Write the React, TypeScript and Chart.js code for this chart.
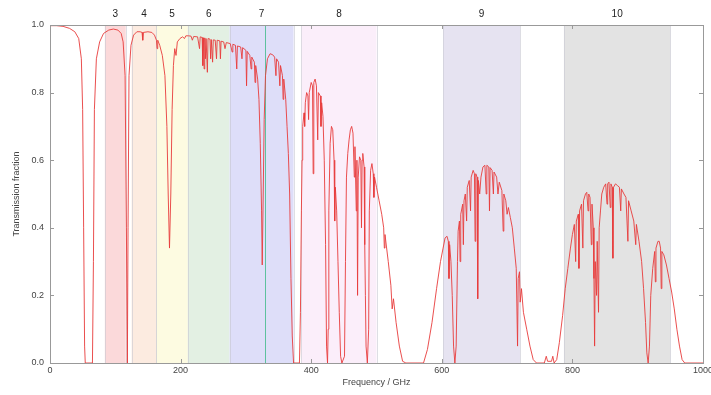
import React, { useEffect, useRef } from "react";
import { Chart, registerables } from "chart.js";

Chart.register(...registerables);

// Atmospheric transmission (frequency in GHz, transmission fraction)
const frequencyGHz = [
  0, 10, 20, 30, 38, 44, 48, 50, 51.5, 53, 54, 65, 66.5, 68, 71, 76, 82, 90, 97, 104, 109, 112, 115, 117, 118.5, 119.5, 121, 124, 128, 133, 138, 141, 142, 143, 150, 156, 160, 163, 164, 165, 168, 172, 176, 179, 181, 183, 185, 187, 189, 191, 193, 195, 199, 203, 206, 208, 212, 216, 218, 220, 226, 229, 230, 233, 234, 235, 236, 237, 238, 239, 241, 242, 245, 246, 247, 249, 250, 253, 255, 256, 260, 261, 262, 266, 268, 270, 276, 279, 280, 284, 286, 287, 292, 294, 295, 300, 301, 302, 306, 308, 309, 313, 314, 315, 318, 320, 322, 324, 325, 326.5, 328, 330, 333, 337, 341, 344, 346, 347, 350, 352, 353, 356, 357, 358, 361, 363, 365, 367, 369, 371, 373, 382, 383.5, 385, 386, 387, 389, 390, 391, 393, 395, 396, 397, 400, 402, 403, 404, 406, 408, 410, 411, 414, 415, 416, 418, 420, 422, 423.5, 425, 426, 427, 429, 431, 433, 435, 436, 437, 439, 441, 443, 445, 447, 451, 452.5, 454, 456, 458, 460, 462, 464, 466, 467, 469, 470, 471, 472, 474, 476, 477, 478, 479, 481, 482, 483, 484, 486, 488, 489, 491, 493, 495, 496, 497, 500, 504, 508, 511, 512, 513, 518, 522, 524, 526, 530, 535, 540, 545, 572, 578, 585, 592, 598, 602, 605, 608, 610, 611, 612, 614, 616, 618, 620, 622, 624, 625, 627, 628, 629, 632, 633, 634, 636, 638, 639, 642, 644, 645, 648, 650, 651, 652, 654, 655, 656, 658, 660, 663, 666, 668, 669, 672, 673, 674, 677, 679, 680, 684, 686, 688, 692, 694, 695, 698, 700, 702, 705, 708, 711, 714, 716, 717, 719, 720, 722, 725, 730, 735, 740, 745, 757, 760, 762, 768, 770, 772, 776, 780, 785, 789, 793, 797, 800, 803, 805, 806, 809, 810, 811, 814, 816, 817, 820, 822, 824, 825, 827, 829, 830, 832, 833, 834, 835, 837, 838, 840, 841, 843, 845, 848, 851, 853, 854, 856, 858, 859, 861, 862, 863, 866, 869, 872, 874, 875, 879, 882, 885, 886, 890, 894, 897, 898, 902, 906, 909, 912, 914, 916, 918, 920, 923, 926, 927, 928, 931, 933, 935, 936, 937, 940, 944, 948, 952, 956, 960, 964, 968, 972, 1000,
];
const transmission = [
  0.998, 0.998, 0.996, 0.99, 0.98, 0.96, 0.9, 0.75, 0.4, 0.05, 0, 0, 0.3, 0.75, 0.9, 0.95, 0.975, 0.985, 0.988, 0.985, 0.975, 0.95, 0.85, 0.4, 0, 0.4, 0.85, 0.94, 0.97, 0.98, 0.98, 0.978, 0.955, 0.978, 0.98, 0.978, 0.97, 0.955, 0.93, 0.955, 0.94, 0.91, 0.85, 0.7, 0.5, 0.34, 0.5, 0.75, 0.88, 0.93, 0.91, 0.95, 0.96, 0.965, 0.96, 0.968, 0.968, 0.967, 0.955, 0.966, 0.965, 0.93, 0.965, 0.963, 0.88, 0.962, 0.87, 0.962, 0.9, 0.96, 0.86, 0.96, 0.958, 0.9, 0.957, 0.89, 0.956, 0.955, 0.9, 0.955, 0.953, 0.9, 0.952, 0.95, 0.93, 0.948, 0.945, 0.92, 0.943, 0.94, 0.87, 0.938, 0.935, 0.9, 0.933, 0.925, 0.82, 0.922, 0.91, 0.87, 0.905, 0.89, 0.83, 0.88, 0.84, 0.78, 0.65, 0.45, 0.29, 0.5, 0.72, 0.85, 0.9, 0.915, 0.912, 0.905, 0.85, 0.9, 0.89, 0.82, 0.88, 0.85, 0.78, 0.84, 0.78, 0.7, 0.62, 0.5, 0.25, 0.08, 0, 0, 0.15, 0.45, 0.6, 0.7, 0.74, 0.7, 0.77, 0.8, 0.79, 0.72, 0.8, 0.83, 0.82, 0.56, 0.83, 0.84, 0.82, 0.66, 0.8, 0.79, 0.7, 0.77, 0.73, 0.6, 0.35, 0.05, 0, 0.1, 0.45, 0.65, 0.7, 0.69, 0.6, 0.42, 0.52, 0.45, 0.3, 0.15, 0.02, 0, 0.02, 0.3, 0.55, 0.62, 0.66, 0.69, 0.7, 0.68, 0.55, 0.64, 0.45, 0.6, 0.2, 0.55, 0.61, 0.6, 0.4, 0.6, 0.62, 0.58, 0.35, 0.2, 0.05, 0, 0.1, 0.45, 0.57, 0.59, 0.56, 0.49, 0.55, 0.52, 0.48, 0.44, 0.4, 0.34, 0.38, 0.3, 0.23, 0.16, 0.19, 0.12, 0.05, 0.005, 0, 0, 0.04, 0.12, 0.22, 0.3, 0.34, 0.37, 0.375, 0.36, 0.25, 0.35, 0.3, 0.2, 0.05, 0, 0.05, 0.3, 0.39, 0.42, 0.3, 0.44, 0.47, 0.35, 0.48, 0.5, 0.42, 0.52, 0.54, 0.45, 0.55, 0.57, 0.56, 0.36, 0.56, 0.55, 0.19, 0.54, 0.5, 0.55, 0.58, 0.585, 0.5, 0.585, 0.58, 0.45, 0.578, 0.57, 0.5, 0.565, 0.55, 0.5, 0.535, 0.51, 0.39, 0.5, 0.48, 0.44, 0.46, 0.43, 0.4, 0.34, 0.28, 0.05, 0.25, 0.27, 0.18, 0.22, 0.15, 0.1, 0.05, 0.01, 0, 0, 0.02, 0.005, 0.005, 0.02, 0, 0.01, 0.06, 0.14, 0.22, 0.28, 0.34, 0.38, 0.41, 0.3, 0.42, 0.44, 0.28, 0.45, 0.47, 0.34, 0.48, 0.5, 0.505, 0.45, 0.5, 0.49, 0.35, 0.47, 0.4, 0.25, 0.05, 0.3, 0.2, 0.36, 0.15, 0.4, 0.45, 0.5, 0.52, 0.53, 0.47, 0.53, 0.535, 0.46, 0.53, 0.52, 0.31, 0.52, 0.53, 0.525, 0.52, 0.45, 0.515, 0.5, 0.49, 0.36, 0.48, 0.45, 0.42, 0.35, 0.41, 0.36, 0.3, 0.22, 0.12, 0.03, 0, 0.05, 0.2, 0.28, 0.33, 0.24, 0.34, 0.36, 0.36, 0.34, 0.22, 0.33, 0.32, 0.29, 0.25, 0.21, 0.16, 0.1, 0.05, 0.01, 0, 0,
];

// ALMA receiver bands
const bandLabels = ["3", "4", "5", "6", "7", "8", "9", "10"];
const bandStartGHz = [84, 125, 163, 211, 275, 385, 602, 787];
const bandEndGHz = [116, 163, 211, 275, 373, 500, 720, 950];
const bandColors = [
  "rgba(250,210,212,0.85)",
  "rgba(252,232,218,0.85)",
  "rgba(253,251,222,0.9)",
  "rgba(224,238,224,0.9)",
  "rgba(218,218,248,0.9)",
  "rgba(251,236,250,0.9)",
  "rgba(229,226,240,0.95)",
  "rgba(226,226,226,0.95)",
];
const markerLineGHz = 329;

const xTicks = [0, 200, 400, 600, 800, 1000];
const yTicks = [0, 0.2, 0.4, 0.6, 0.8, 1.0];

const FONT = "'Liberation Sans', Arial, sans-serif";

const decorPlugin = {
  id: "decor",
  beforeDatasetsDraw(chart: any) {
    const { ctx, chartArea, scales } = chart;
    const x = scales.x;
    ctx.save();
    bandStartGHz.forEach((s, i) => {
      const x0 = x.getPixelForValue(s);
      const x1 = x.getPixelForValue(bandEndGHz[i]);
      ctx.fillStyle = bandColors[i];
      ctx.fillRect(x0, chartArea.top, x1 - x0, chartArea.bottom - chartArea.top);
      ctx.strokeStyle = "rgba(200,200,210,0.6)";
      ctx.lineWidth = 1;
      ctx.beginPath();
      ctx.moveTo(Math.round(x0) + 0.5, chartArea.top);
      ctx.lineTo(Math.round(x0) + 0.5, chartArea.bottom);
      ctx.moveTo(Math.round(x1) + 0.5, chartArea.top);
      ctx.lineTo(Math.round(x1) + 0.5, chartArea.bottom);
      ctx.stroke();
      ctx.fillStyle = "#222";
      ctx.font = `10px ${FONT}`;
      ctx.textAlign = "center";
      ctx.textBaseline = "middle";
      ctx.fillText(bandLabels[i], (x0 + x1) / 2, chartArea.top - 11);
    });
    const mx = Math.round(x.getPixelForValue(markerLineGHz)) + 0.5;
    ctx.strokeStyle = "rgba(80,190,150,0.9)";
    ctx.beginPath();
    ctx.moveTo(mx, chartArea.top);
    ctx.lineTo(mx, chartArea.bottom);
    ctx.stroke();
    ctx.restore();
  },
  afterDatasetsDraw(chart: any) {
    const { ctx, chartArea, scales } = chart;
    const { left, right, top, bottom } = chartArea;
    ctx.save();
    ctx.strokeStyle = "#999";
    ctx.lineWidth = 1;
    ctx.strokeRect(Math.round(left) + 0.5, Math.round(top) + 0.5, Math.round(right - left), Math.round(bottom - top));
    ctx.beginPath();
    xTicks.forEach((v) => {
      const px = Math.round(scales.x.getPixelForValue(v)) + 0.5;
      ctx.moveTo(px, bottom);
      ctx.lineTo(px, bottom - 4);
      ctx.moveTo(px, top);
      ctx.lineTo(px, top + 4);
    });
    yTicks.forEach((v) => {
      const py = Math.round(scales.y.getPixelForValue(v)) + 0.5;
      ctx.moveTo(left, py);
      ctx.lineTo(left + 4, py);
      ctx.moveTo(right, py);
      ctx.lineTo(right - 4, py);
    });
    ctx.stroke();
    ctx.restore();
  },
};

export default function App() {
  const ref = useRef<HTMLCanvasElement>(null);
  useEffect(() => {
    if (!ref.current) return;
    const chart = new Chart(ref.current, {
      type: "line",
      data: {
        datasets: [
          {
            data: frequencyGHz.map((f, i) => ({ x: f, y: transmission[i] })),
            borderColor: "rgba(232,60,60,0.9)",
            borderWidth: 1,
            pointRadius: 0,
            tension: 0,
          },
        ],
      },
      options: {
        animation: false,
        responsive: false,
        devicePixelRatio: 1,
        layout: { autoPadding: false, padding: { left: 0, right: 8, top: 25, bottom: 0 } },
        plugins: { legend: { display: false }, tooltip: { enabled: false } },
        scales: {
          x: {
            type: "linear",
            min: 0,
            max: 1000,
            afterBuildTicks: (s: any) => {
              s.ticks = xTicks.map((v) => ({ value: v }));
            },
            afterFit: (s: any) => {
              s.height = 32;
              s.paddingLeft = 0;
              s.paddingRight = 0;
            },
            grid: { display: false, drawTicks: false },
            border: { display: false },
            ticks: { color: "#444", font: { family: FONT, size: 9 }, padding: 2, maxRotation: 0, callback: (v: any) => String(v) },
            title: { display: true, text: "Frequency / GHz", color: "#444", font: { family: FONT, size: 9 }, padding: { top: 0, bottom: 7 } },
          },
          y: {
            type: "linear",
            min: 0,
            max: 1,
            afterBuildTicks: (s: any) => {
              s.ticks = yTicks.map((v) => ({ value: v }));
            },
            afterFit: (s: any) => {
              s.width = 50;
              s.paddingTop = 0;
              s.paddingBottom = 0;
            },
            grid: { display: false, drawTicks: false },
            border: { display: false },
            ticks: { color: "#444", font: { family: FONT, size: 9 }, padding: 6, callback: (v: any) => Number(v).toFixed(1) },
            title: { display: true, text: "Transmission fraction", color: "#444", font: { family: FONT, size: 9 }, padding: { top: 11, bottom: 0 } },
          },
        },
      },
      plugins: [decorPlugin],
    });
    return () => chart.destroy();
  }, []);
  return (
    <div style={{ position: "absolute", left: 0, top: 0, width: 711, height: 395, background: "#fff" }}>
      <canvas ref={ref} width={711} height={395} />
    </div>
  );
}
